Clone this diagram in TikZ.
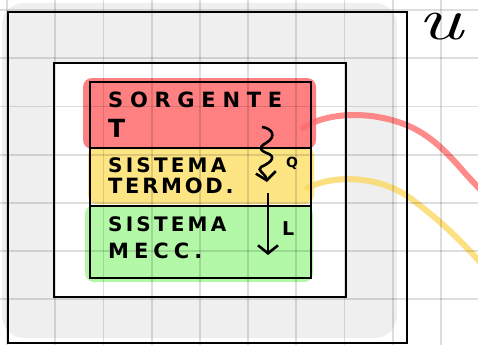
\documentclass[tikz,border=0pt]{standalone}
\usepackage{fontspec}
\newfontfamily\hand{DejaVu Sans}
\usetikzlibrary{arrows.meta}
\definecolor{paper}{HTML}{EFEFEF}
\definecolor{hotred}{HTML}{FF8080}
\definecolor{warmyel}{HTML}{FEE583}
\definecolor{mechgrn}{HTML}{B2F8A6}
\definecolor{streakred}{HTML}{FF6E6E}
\definecolor{streakyel}{HTML}{FBD862}
\tikzset{
  gridline/.style={black, opacity=.13, line width=1.8pt},
  frame/.style={draw=black, line width=2pt},
  stackbox/.style={draw=black, line width=2pt, minimum width=221pt, anchor=north west, inner sep=0},
  spill/.style={rounded corners=9pt},
  label/.style={anchor=base west, inner sep=0, font=\hand\bfseries\fontsize{20}{20}\selectfont},
  flow/.style={line width=2.6pt, -{Straight Barb[length=8pt,width=20pt]}},
  streak/.style={line width=6pt, line cap=round, opacity=.8}
}
\begin{document}
\begin{tikzpicture}[x=1pt,y=-1pt]
\useasboundingbox (0,0) rectangle (478,345);
% surroundings shading and the system region
\fill[paper, rounded corners=22pt] (2,3) rectangle (397,338);
\fill[white] (53,62) rectangle (345,296);
% coloured fills of the three subsystems
\fill[warmyel, spill] (88,146) rectangle (314,204);
\fill[mechgrn, spill] (85,205) rectangle (313,282);
\fill[hotred, spill] (83,78) rectangle (316,149);
% exchanges with the outside
\coordinate (rs) at (303,128); \coordinate (re) at (481,190);
\coordinate (ys) at (307,188); \coordinate (ye) at (481,263);
\draw[streak, streakred] (rs) .. controls (330,110) and (380,111) .. (415,129)
      .. controls (445,145) and (460,170) .. (re);
\draw[streak, streakyel] (ys) .. controls (335,174) and (380,176) .. (410,198)
      .. controls (440,220) and (460,240) .. (ye);
% squared paper
\foreach \i in {0,...,9} \draw[gridline] (7+48.2*\i,0) -- (7+48.2*\i,345);
\foreach \j in {0,...,7} \draw[gridline] (0,10+48.2*\j) -- (478,10+48.2*\j);
% boundaries
\node[frame, minimum width=399pt, minimum height=331pt, anchor=north west, inner sep=0] (univ) at (7,11) {};
\node[frame, minimum width=292pt, minimum height=234pt, anchor=north west, inner sep=0] (sys) at (53,62) {};
\node[stackbox, minimum height=66pt] (src) at (89,81) {};
\node[stackbox, minimum height=58pt] (thermo) at (89,147) {};
\node[stackbox, minimum height=72pt] (mech) at (89,205) {};
% labels
\node[label, font=\hand\bfseries\fontsize{21}{21}\selectfont\addfontfeature{LetterSpace=32}] (t1) at (108,107) {SORGENTE};
\node[label, font=\hand\bfseries\fontsize{25}{25}\selectfont] (t2) at (108,137) {T};
\node[label, font=\hand\bfseries\fontsize{20}{20}\selectfont\addfontfeature{LetterSpace=16}] (t3) at (108,172) {SISTEMA};
\node[label, font=\hand\bfseries\fontsize{21}{21}\selectfont\addfontfeature{LetterSpace=13}] (t4) at (108,193) {TERMOD.};
\node[label, font=\hand\bfseries\fontsize{20}{20}\selectfont\addfontfeature{LetterSpace=16}] (t5) at (108,231) {SISTEMA};
\node[label, font=\hand\bfseries\fontsize{21}{21}\selectfont\addfontfeature{LetterSpace=24}] (t6) at (108,258) {MECC.};
\node[label, font=\hand\bfseries\fontsize{14}{14}\selectfont] (q) at (286,167) {Q};
\node[label, font=\hand\bfseries\fontsize{19}{19}\selectfont] (l) at (282,235) {L};
\node[anchor=base west, inner sep=0, font=\fontsize{60}{60}\selectfont\itshape] (u) at (417,39) {\scalebox{1.45}[1]{u}};
% heat and work arrows
\coordinate (qs) at (262,127); \coordinate (qe) at (267,182);
\coordinate (ls) at (268,193); \coordinate (le) at (268,255);
\draw[flow] (qs) .. controls (271,128) and (278,136) .. (266,143)
  .. controls (257,148) and (261,151) .. (269,154)
  .. controls (277,158) and (268,164) .. (261,167)
  .. controls (256,170) and (266,174) .. (qe);
\draw[flow] (ls) -- (le);
\end{tikzpicture}
\end{document}
